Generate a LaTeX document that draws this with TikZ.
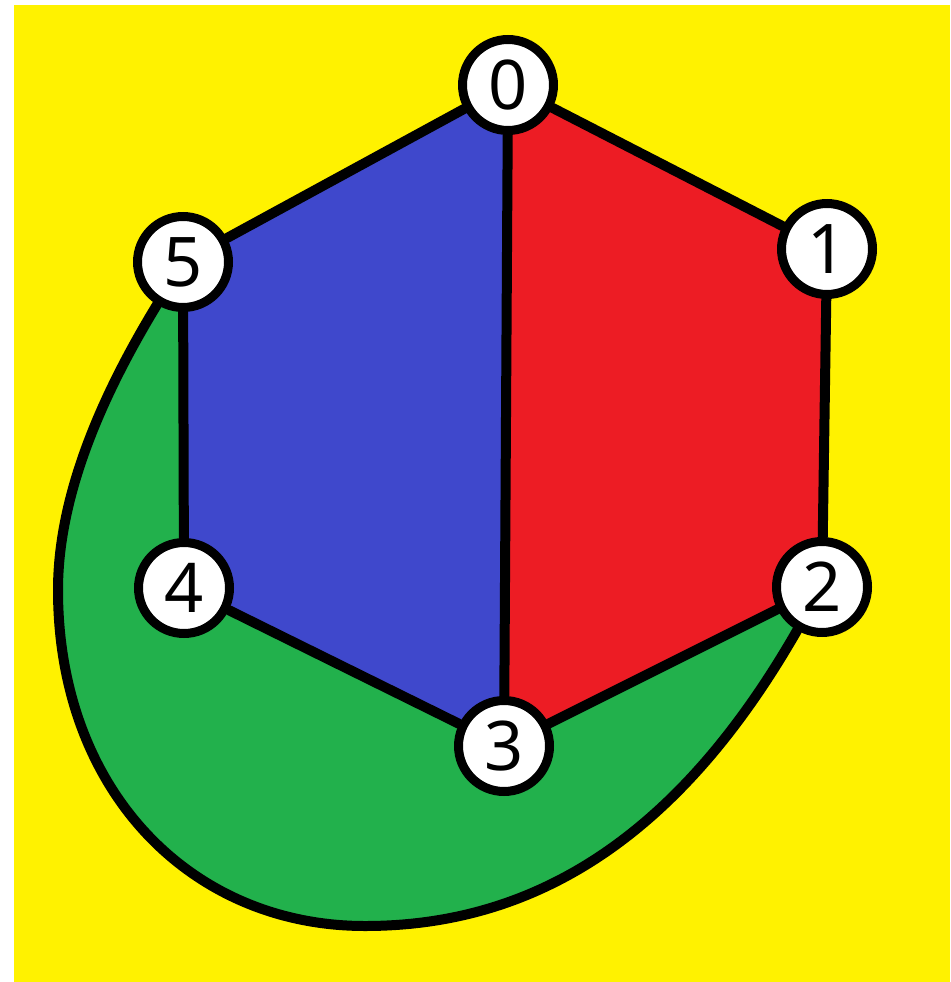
\documentclass[tikz,border=0pt]{standalone}
\usepackage{fontspec}
\newfontfamily\digitfont{Noto Sans}
\usetikzlibrary{backgrounds}
\definecolor{paintyellow}{HTML}{FFF200}
\definecolor{paintred}{HTML}{ED1C24}
\definecolor{paintblue}{HTML}{3F48CC}
\definecolor{paintgreen}{HTML}{22B14C}

\begin{document}
\begin{tikzpicture}[
  x=0.02cm, y=-0.02cm,
  vertex/.style={circle, draw=black, line width=0.18cm, fill=white,
    minimum size=1.82cm, inner sep=0pt, font=\digitfont\fontsize{39}{39}\selectfont},
  edge/.style={draw=black, line width=0.2cm, line join=round, line cap=round}
]
\useasboundingbox (0,0) rectangle (950,982);

\node (n0) [vertex] at (508,85) {0};
\node (n1) [vertex] at (827,249) {1};
\node (n2) [vertex] at (822,587) {2};
\node (n3) [vertex] at (504,746) {3};
\node (n4) [vertex] at (184,588) {4};
\node (n5) [vertex] at (183,262) {5};
\coordinate (bulgew) at (58,590);
\coordinate (bulges) at (365,926);

\begin{pgfonlayer}{background}
\fill [paintyellow] (14,5) rectangle (950,982);
\fill [paintblue] (n0.center) -- (n5.center) -- (n4.center) -- (n3.center) -- cycle;
\fill [paintred] (n0.center) -- (n1.center) -- (n2.center) -- (n3.center) -- cycle;
\fill [paintgreen] (n5.center) .. controls (107,387) and (58,490) .. (bulgew)
  .. controls (58,790) and (190,926) .. (bulges)
  .. controls (545,926) and (685,826) .. (n2.center)
  -- (n3.center) -- (n4.center) -- cycle;

\draw [edge] (n0) -- (n1);
\draw [edge] (n1) -- (n2);
\draw [edge] (n2) -- (n3);
\draw [edge] (n3) -- (n4);
\draw [edge] (n4) -- (n5);
\draw [edge] (n5) -- (n0);
\draw [edge] (n0) -- (n3);
\draw [edge] (n5) .. controls (107,387) and (58,490) .. (bulgew)
  .. controls (58,790) and (190,926) .. (bulges)
  .. controls (545,926) and (685,826) .. (n2);
\end{pgfonlayer}

\end{tikzpicture}
\end{document}
